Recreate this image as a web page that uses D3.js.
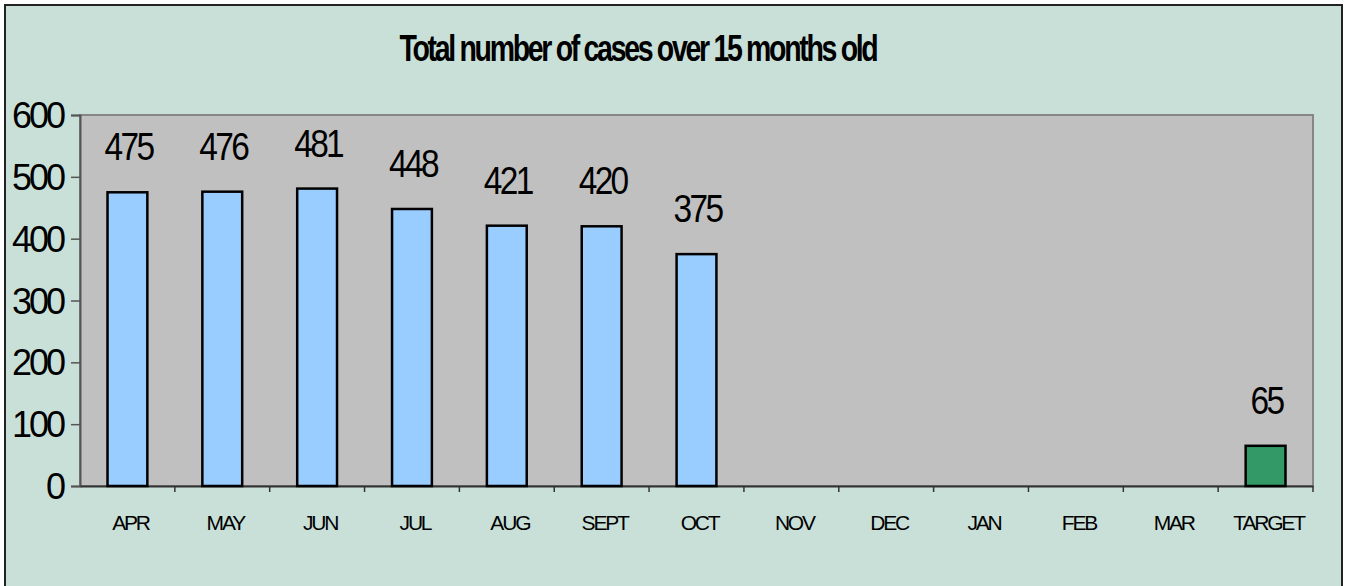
<!DOCTYPE html>
<html>
<head>
<meta charset="utf-8">
<script src="https://cdn.jsdelivr.net/npm/d3@7"></script>
<style>
  body { margin: 0; background: #fff; }
  text { font-family: "Liberation Sans", Arial, sans-serif; fill: #000; }
</style>
</head>
<body>
<svg id="chart" width="1346" height="586"></svg>
<script>
const months = ["APR", "MAY", "JUN", "JUL", "AUG", "SEPT", "OCT", "NOV", "DEC", "JAN", "FEB", "MAR", "TARGET"];
const cases = [475, 476, 481, 448, 421, 420, 375, null, null, null, null, null, 65];
const yTicks = [0, 100, 200, 300, 400, 500, 600];
const title = "Total number of cases over 15 months old";

const svg = d3.select("#chart");
const plot = { left: 80, top: 115, right: 1313, bottom: 486 };

// outer chart box
svg.append("rect")
  .attr("x", 5).attr("y", 5)
  .attr("width", 1337).attr("height", 600)
  .attr("fill", "#c9e0d9")
  .attr("stroke", "#222").attr("stroke-width", 2);

// squeeze text horizontally around its anchor, like the old excel rendering
const squeeze = (sel, sx) => sel.attr("transform", function() {
  const x = +this.getAttribute("x"), y = +this.getAttribute("y");
  return `translate(${x},${y}) scale(${sx},1) translate(${-x},${-y})`;
});

svg.append("text")
  .attr("x", 638).attr("y", 61)
  .attr("text-anchor", "middle")
  .attr("font-size", 37).attr("font-weight", "bold")
  .attr("letter-spacing", -3)
  .text(title)
  .each(function() {
    const w = this.getComputedTextLength();
    squeeze(d3.select(this), 477 / w);
  });

const x = d3.scaleBand().domain(months).range([plot.left, plot.right]);
const y = d3.scaleLinear().domain([0, 600]).range([plot.bottom, plot.top]);

// plot area
svg.append("rect")
  .attr("x", plot.left).attr("y", plot.top)
  .attr("width", plot.right - plot.left).attr("height", plot.bottom - plot.top)
  .attr("fill", "#c0c0c0")
  .attr("stroke", "#868686").attr("stroke-width", 2);

// y axis
const yAxis = svg.append("g")
  .attr("transform", `translate(${plot.left},0)`)
  .call(d3.axisLeft(y).tickValues(yTicks).tickSize(9).tickPadding(8));
yAxis.select(".domain").attr("stroke", "#555").attr("stroke-width", 2);
yAxis.selectAll(".tick line").attr("stroke", "#555").attr("stroke-width", 1.5);
yAxis.selectAll(".tick text")
  .attr("font-size", 36).attr("font-family", null)
  .attr("dy", "0.35em")
  .attr("letter-spacing", -3);

// x axis: ticks between categories
const bw = x.bandwidth();
const xAxis = svg.append("g")
  .attr("transform", `translate(0,${plot.bottom})`)
  .call(d3.axisBottom(x).tickSize(0).tickPadding(0));
xAxis.select(".domain").attr("stroke", "#333").attr("stroke-width", 2);
xAxis.selectAll(".tick text")
  .attr("font-size", 21).attr("font-family", null)
  .attr("x", 3)
  .attr("y", 44).attr("dy", 0)
  .attr("letter-spacing", -2.2);
xAxis.selectAll(".tick").append("line")
  .attr("x1", bw / 2).attr("x2", bw / 2)
  .attr("y1", 0).attr("y2", 6)
  .attr("stroke", "#333").attr("stroke-width", 1.5);

// bars
const barW = bw * 0.42;
const rows = months.map((m, i) => ({ m, v: cases[i] })).filter(d => d.v != null);
svg.append("g").selectAll("rect")
  .data(rows)
  .join("rect")
  .attr("x", d => x(d.m) + (bw - barW) / 2)
  .attr("y", d => y(d.v))
  .attr("width", barW)
  .attr("height", d => y(0) - y(d.v))
  .attr("fill", d => d.m === "TARGET" ? "#339966" : "#99ccff")
  .attr("stroke", "#000").attr("stroke-width", 2.5);

svg.append("g").selectAll("text")
  .data(rows)
  .join("text")
  .attr("x", d => x(d.m) + bw / 2 + 1)
  .attr("y", d => y(d.v) - 32)
  .attr("text-anchor", "middle")
  .attr("font-size", 38)
  .attr("letter-spacing", -3)
  .text(d => d.v)
  .call(squeeze, 0.88);
</script>
</body>
</html>
